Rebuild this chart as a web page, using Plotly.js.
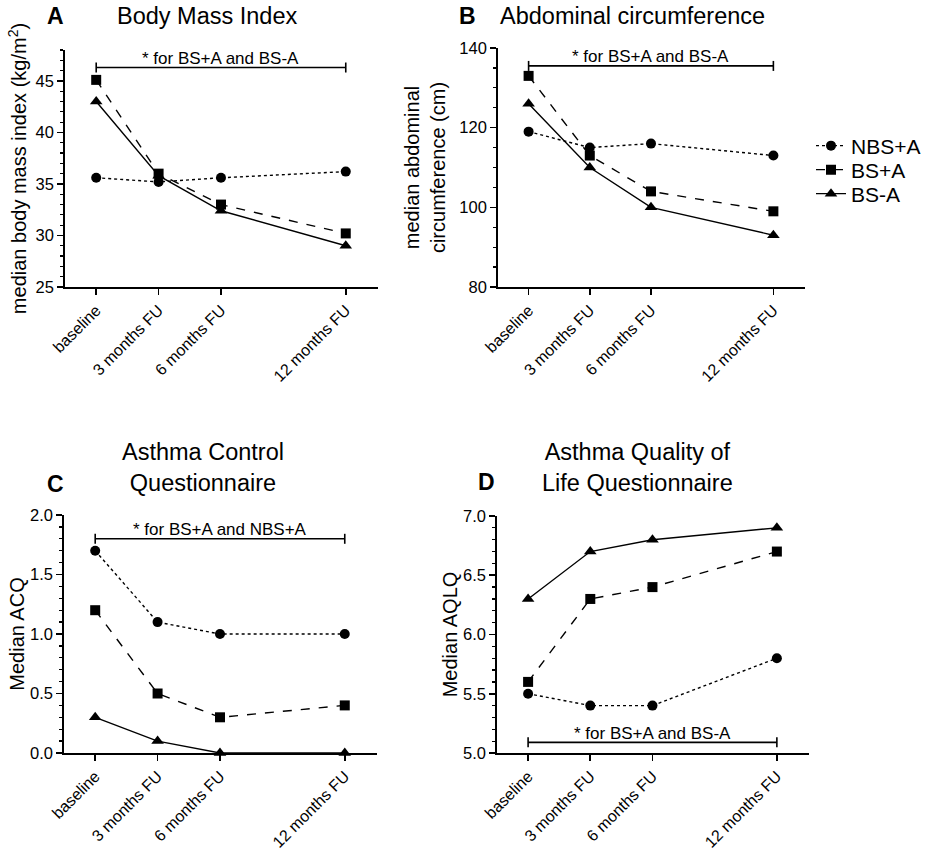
<!DOCTYPE html>
<html>
<head>
<meta charset="utf-8">
<script src="https://cdn.plot.ly/plotly-3.0.1.min.js"></script>
<style>html,body{margin:0;padding:0;background:#fff;}#chart{width:930px;height:851px;}</style>
</head>
<body>
<div id="chart"></div>
<script>
// ---- data ----
const months = [0, 3, 6, 12];
const tickLabels = ['baseline', '3 months FU', '6 months FU', '12 months FU'];
const groups = ['NBS+A', 'BS+A', 'BS-A'];

const bmiNBSA = [35.6, 35.2, 35.6, 36.2];
const bmiBSA  = [45.1, 36.0, 33.0, 30.2];
const bmiBSmA = [43.0, 35.8, 32.4, 29.0];

const acNBSA = [119, 115, 116, 113];
const acBSA  = [133, 113, 104, 99];
const acBSmA = [126, 110, 100, 93];

const acqNBSA = [1.7, 1.1, 1.0, 1.0];
const acqBSA  = [1.2, 0.5, 0.3, 0.4];
const acqBSmA = [0.3, 0.1, 0.0, 0.0];

const aqlqNBSA = [5.5, 5.4, 5.4, 5.8];
const aqlqBSA  = [5.6, 6.3, 6.4, 6.7];
const aqlqBSmA = [6.3, 6.7, 6.8, 6.9];

const bracketTexts = ['* for BS+A and BS-A', '* for BS+A and BS-A', '* for BS+A and NBS+A', '* for BS+A and BS-A'];
const bracketLevels = [46.3, 135.5, 1.8, 5.09];

// ---- styling ----
const W = 930, H = 851;
const FONT = 'Arial, "Liberation Sans", sans-serif';
const px = v => v / W;
const py = v => 1 - v / H;
const styles = [
  {dash: 'dot', symbol: 'circle', size: 10},
  {dash: 'dash', symbol: 'square', size: 10},
  {dash: 'solid', symbol: 'triangle-up', size: 11}
];

const panels = [
  {series: [bmiNBSA, bmiBSA, bmiBSmA], xa: 'x', ya: 'y', legend: false},
  {series: [acNBSA, acBSA, acBSmA], xa: 'x2', ya: 'y2', legend: true},
  {series: [acqNBSA, acqBSA, acqBSmA], xa: 'x3', ya: 'y3', legend: false},
  {series: [aqlqNBSA, aqlqBSA, aqlqBSmA], xa: 'x4', ya: 'y4', legend: false}
];
const legendNames = ['legend', 'legend2', 'legend3'];

const traces = [];
panels.forEach(p => {
  p.series.forEach((vals, i) => {
    traces.push({
      x: months, y: vals, name: groups[i], type: 'scatter', mode: 'lines+markers',
      xaxis: p.xa, yaxis: p.ya,
      showlegend: p.legend, legend: legendNames[i],
      line: {color: 'black', width: 1.4, dash: styles[i].dash},
      marker: {color: 'black', symbol: styles[i].symbol, size: styles[i].size},
      cliponaxis: false
    });
  });
});

function xAxis(d) {
  return {
    domain: [px(d[0]), px(d[1])], range: [-1.5, 13.55],
    tickvals: months, ticktext: tickLabels, tickangle: -45,
    ticks: 'outside', ticklen: 6, tickwidth: 1.6, tickcolor: 'black',
    showline: true, linecolor: 'black', linewidth: 1.8,
    showgrid: false, zeroline: false, fixedrange: true,
    tickfont: {family: FONT, size: 16, color: 'black'}
  };
}
function yAxis(d, anchor, range, dtick, minor, fmt, title, standoff) {
  return {
    domain: [py(d[1]), py(d[0])], range: range, anchor: anchor,
    dtick: dtick, tick0: range[0], tickformat: fmt,
    ticks: 'outside', ticklen: 6, tickwidth: 1.6, tickcolor: 'black',
    minor: {dtick: minor, ticks: 'outside', ticklen: 3, tickwidth: 1.2, tickcolor: 'black', showgrid: false},
    showline: true, linecolor: 'black', linewidth: 1.8,
    showgrid: false, zeroline: false, fixedrange: true,
    tickfont: {family: FONT, size: 16.5, color: 'black'},
    title: {text: title, standoff: standoff, font: {family: FONT, size: 20, color: 'black'}}
  };
}

const legendStyle = {xanchor: 'left', yanchor: 'middle', font: {family: FONT, size: 21, color: 'black'}, bgcolor: 'rgba(0,0,0,0)', itemwidth: 30};
const layout = {
  width: W, height: H, margin: {l: 0, r: 0, t: 0, b: 0},
  paper_bgcolor: 'white', plot_bgcolor: 'rgba(0,0,0,0)',
  font: {family: FONT, color: 'black'},
  xaxis: Object.assign(xAxis([65, 378]), {anchor: 'y'}),
  yaxis: yAxis([50, 287], 'x', [25, 48], 5, 1, '', 'median body mass index (kg/m<sup>2</sup>)', 3),
  xaxis2: Object.assign(xAxis([498, 805]), {anchor: 'y2'}),
  yaxis2: yAxis([48, 287], 'x2', [80, 140], 20, 5, '', 'median abdominal<br>circumference (cm)', 8),
  xaxis3: Object.assign(xAxis([64, 377]), {anchor: 'y3'}),
  yaxis3: yAxis([515, 753], 'x3', [0, 2], 0.5, 0.1, '.1f', 'Median ACQ', 0),
  xaxis4: Object.assign(xAxis([497, 809]), {anchor: 'y4'}),
  yaxis4: yAxis([516, 753], 'x4', [5, 7], 0.5, 0.1, '.1f', 'Median AQLQ', 0),
  legend:  Object.assign({x: px(811), y: py(146)}, legendStyle),
  legend2: Object.assign({x: px(811), y: py(170)}, legendStyle),
  legend3: Object.assign({x: px(811), y: py(194)}, legendStyle),
  shapes: [],
  annotations: []
};

// significance brackets
const axPairs = [['x', 'y'], ['x2', 'y2'], ['x3', 'y3'], ['x4', 'y4']];
axPairs.forEach((a, i) => {
  const lvl = bracketLevels[i];
  const x0 = months[0], x1 = months[months.length - 1];
  layout.shapes.push({type: 'line', xref: a[0], yref: a[1], x0: x0, x1: x1, y0: lvl, y1: lvl, line: {color: 'black', width: 1.6}});
  [x0, x1].forEach(xx => {
    layout.shapes.push({type: 'line', xref: a[0], yref: a[1], ysizemode: 'pixel', yanchor: lvl, x0: xx, x1: xx, y0: -5, y1: 5, line: {color: 'black', width: 1.6}});
  });
  layout.annotations.push({xref: a[0], yref: a[1], x: (x0 + x1) / 2, y: lvl, yshift: 9, text: bracketTexts[i], showarrow: false, yanchor: 'middle', font: {family: FONT, size: 17, color: 'black'}});
});

// panel letters and titles
const txt = (x, y, text, size) => ({xref: 'paper', yref: 'paper', x: px(x), y: py(y), text: text, showarrow: false, xanchor: 'center', yanchor: 'middle', font: {family: FONT, size: size, color: 'black'}});
layout.annotations.push(
  txt(55, 16, '<b>A</b>', 23),
  txt(207, 16, 'Body Mass Index', 23.5),
  txt(468, 16, '<b>B</b>', 23),
  txt(632, 16, 'Abdominal circumference', 23.5),
  txt(55, 484, '<b>C</b>', 23),
  txt(203, 467, 'Asthma Control<br>Questionnaire', 23.5),
  txt(486, 482, '<b>D</b>', 23),
  txt(637, 467, 'Asthma Quality of<br>Life Questionnaire', 23.5)
);

Plotly.newPlot('chart', traces, layout, {staticPlot: true, displayModeBar: false});
</script>
</body>
</html>
